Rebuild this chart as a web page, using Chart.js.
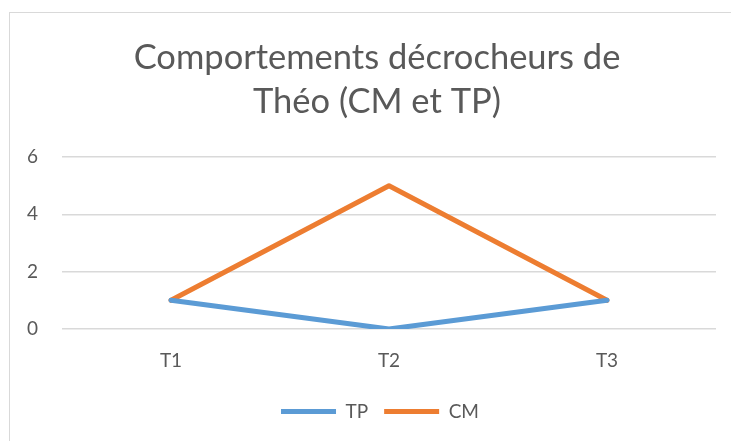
<!DOCTYPE html>
<html lang="fr">
<head>
<meta charset="utf-8">
<title>Comportements décrocheurs de Théo</title>
<script src="https://cdn.jsdelivr.net/npm/chart.js@4"></script>
<style>
  html, body { margin: 0; padding: 0; background: #fff; }
  #wrap { position: relative; width: 731px; height: 441px; overflow: hidden; }
  #frame {
    position: absolute; left: 9px; top: 12px; width: 760px; height: 480px;
    border: 1px solid #d9d9d9; box-sizing: border-box;
  }
  canvas { position: absolute; left: 0; top: 0; }
</style>
</head>
<body>
<div id="wrap">
  <div id="frame"></div>
  <canvas id="chart" width="731" height="441"></canvas>
</div>
<script>
// données
const periodes = ['T1', 'T2', 'T3'];
const valeursTP = [1, 0, 1];
const valeursCM = [1, 5, 1];
const ticksY = [0, 2, 4, 6];

const textColor = '#595959';
const gridColor = '#d9d9d9';
const fontFamily = 'Lato, "Open Sans", sans-serif';

// décale le titre et la légende pour les centrer comme dans Excel
const blockShift = {
  id: 'blockShift',
  afterLayout(chart) {
    if (chart.titleBlock) chart.titleBlock.left = 38;
    if (chart.legend) chart.legend.left = 44;
  }
};

const ctx = document.getElementById('chart').getContext('2d');
new Chart(ctx, {
  type: 'line',
  data: {
    labels: periodes,
    datasets: [
      {
        label: 'TP',
        data: valeursTP,
        borderColor: '#5B9BD5',
        backgroundColor: '#5B9BD5',
        borderWidth: 5,
        borderCapStyle: 'round',
        borderJoinStyle: 'round',
        pointRadius: 0,
        tension: 0
      },
      {
        label: 'CM',
        data: valeursCM,
        borderColor: '#ED7D31',
        backgroundColor: '#ED7D31',
        borderWidth: 5,
        borderCapStyle: 'round',
        borderJoinStyle: 'round',
        pointRadius: 0,
        tension: 0
      }
    ]
  },
  options: {
    responsive: false,
    animation: false,
    layout: { padding: { left: 0, right: 15, top: 0, bottom: 10 } },
    plugins: {
      title: {
        display: true,
        text: ['Comportements décrocheurs de', 'Théo (CM et TP)'],
        color: textColor,
        font: { family: fontFamily, size: 34.5, weight: 'normal', lineHeight: '44px' },
        padding: { top: 36, bottom: 33 }
      },
      legend: {
        position: 'bottom',
        labels: {
          usePointStyle: true,
          pointStyle: 'line',
          pointStyleWidth: 55,
          boxHeight: 5,
          color: textColor,
          font: { family: fontFamily, size: 19 },
          padding: 16
        }
      },
      tooltip: { enabled: false }
    },
    scales: {
      x: {
        offset: true,
        grid: { display: false, drawTicks: false },
        border: { display: false },
        ticks: { color: textColor, font: { family: fontFamily, size: 19 }, padding: 20 },
        afterFit(scale) { scale.height = 57; }
      },
      y: {
        min: 0,
        max: 6,
        afterBuildTicks(scale) { scale.ticks = ticksY.map(v => ({ value: v })); },
        grid: { color: gridColor, lineWidth: 1.5, drawTicks: false },
        border: { display: false },
        ticks: { color: textColor, font: { family: fontFamily, size: 19 }, padding: 24 },
        afterFit(scale) { scale.width = 62; }
      }
    }
  },
  plugins: [blockShift]
});
</script>
</body>
</html>
